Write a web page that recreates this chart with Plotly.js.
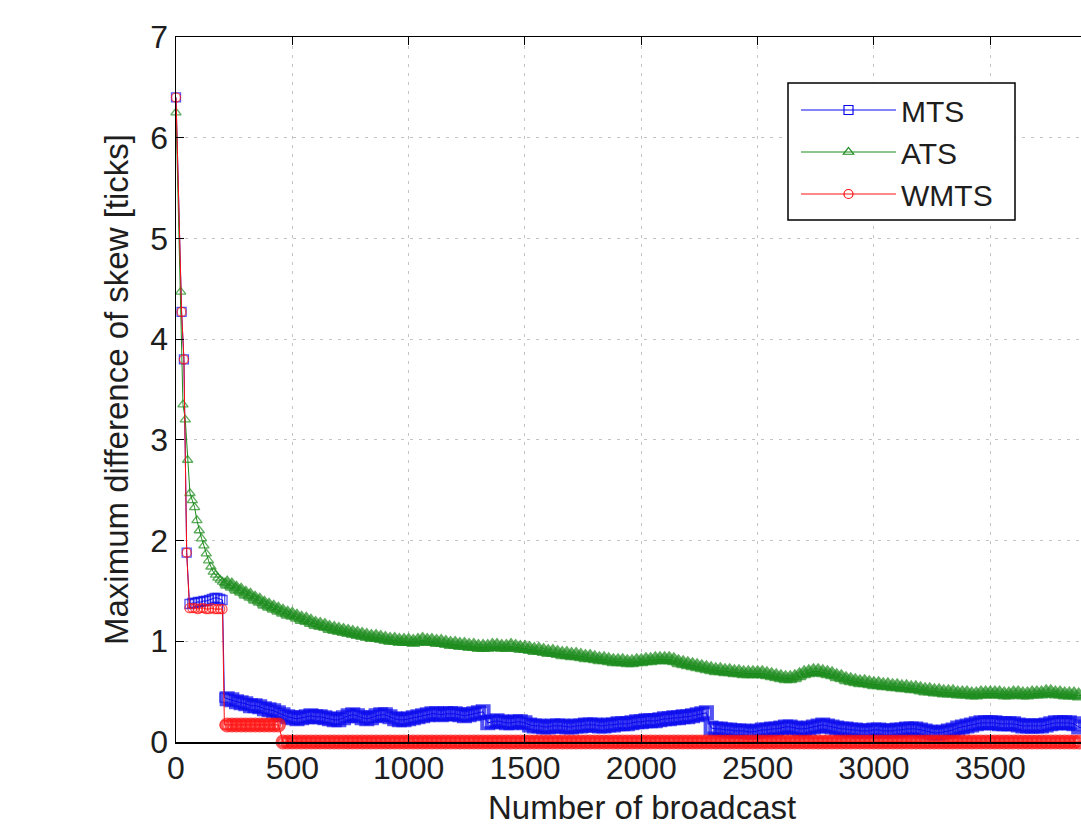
<!DOCTYPE html>
<html>
<head>
<meta charset="utf-8">
<script src="https://cdn.plot.ly/plotly-3.0.1.min.js"></script>
<style>html,body{margin:0;padding:0;background:#fff;}#chart{width:1081px;height:825px;}</style>
</head>
<body>
<div id="chart"></div>
<script>
// ---- data ----
const seriesNames = ["MTS", "ATS", "WMTS"];
const xTickVals = [0, 500, 1000, 1500, 2000, 2500, 3000, 3500];
const yTickVals = [0, 1, 2, 3, 4, 5, 6, 7];

// early samples (before the regular grid)
const mtsEarlyX = [0, 24, 34, 46, 58, 70, 82, 94, 106, 118, 130, 142, 154, 166, 178, 190, 200, 208];
const mtsEarlyY = [6.40, 4.27, 3.80, 1.88, 1.37, 1.38, 1.38, 1.39, 1.39, 1.40, 1.40, 1.41, 1.42, 1.43, 1.43, 1.42, 1.41, 0.44];
const wmtsEarlyY = [6.40, 4.27, 3.80, 1.88, 1.33, 1.33, 1.33, 1.32, 1.33, 1.33, 1.32, 1.32, 1.33, 1.32, 1.32, 1.32, 1.32, 0.17];
const atsEarlyX = [0, 20, 30, 40, 50, 60, 70, 80, 90, 100, 110, 120, 130, 140, 150, 160, 170, 180, 190, 200, 210];
const atsEarlyY = [6.25, 4.47, 3.35, 3.20, 2.80, 2.47, 2.40, 2.33, 2.20, 2.10, 2.02, 1.95, 1.87, 1.80, 1.74, 1.69, 1.66, 1.63, 1.61, 1.59, 1.58];

// regular samples
const broadcastX = [
  220,240,260,280,300,320,340,360,380,400,
  420,440,460,480,500,520,540,560,580,600,
  620,640,660,680,700,720,740,760,780,800,
  820,840,860,880,900,920,940,960,980,1000,
  1020,1040,1060,1080,1100,1120,1140,1160,1180,1200,
  1220,1240,1260,1280,1300,1320,1340,1360,1380,1400,
  1420,1440,1460,1480,1500,1520,1540,1560,1580,1600,
  1620,1640,1660,1680,1700,1720,1740,1760,1780,1800,
  1820,1840,1860,1880,1900,1920,1940,1960,1980,2000,
  2020,2040,2060,2080,2100,2120,2140,2160,2180,2200,
  2220,2240,2260,2280,2300,2320,2340,2360,2380,2400,
  2420,2440,2460,2480,2500,2520,2540,2560,2580,2600,
  2620,2640,2660,2680,2700,2720,2740,2760,2780,2800,
  2820,2840,2860,2880,2900,2920,2940,2960,2980,3000,
  3020,3040,3060,3080,3100,3120,3140,3160,3180,3200,
  3220,3240,3260,3280,3300,3320,3340,3360,3380,3400,
  3420,3440,3460,3480,3500,3520,3540,3560,3580,3600,
  3620,3640,3660,3680,3700,3720,3740,3760,3780,3800,
  3820,3840,3860,3880,3900,3920,3940,3960,3980,4000
];
const atsY = [
  1.57,1.55,1.52,1.50,1.47,1.45,1.42,1.40,1.37,1.35,
  1.33,1.31,1.29,1.27,1.26,1.24,1.22,1.21,1.19,1.17,
  1.16,1.15,1.13,1.12,1.11,1.10,1.09,1.08,1.07,1.06,
  1.05,1.04,1.04,1.03,1.02,1.01,1.01,1.00,1.00,1.00,
  0.99,1.00,1.01,1.00,1.00,0.99,0.99,0.98,0.97,0.97,
  0.96,0.96,0.95,0.95,0.94,0.94,0.94,0.95,0.95,0.94,
  0.94,0.95,0.94,0.93,0.93,0.92,0.91,0.91,0.90,0.89,
  0.89,0.88,0.87,0.87,0.86,0.86,0.85,0.84,0.84,0.83,
  0.82,0.82,0.81,0.80,0.80,0.80,0.79,0.79,0.80,0.80,
  0.81,0.81,0.82,0.82,0.82,0.82,0.81,0.79,0.78,0.77,
  0.76,0.75,0.74,0.73,0.72,0.71,0.71,0.70,0.70,0.69,
  0.69,0.68,0.68,0.68,0.68,0.68,0.67,0.66,0.65,0.64,
  0.63,0.63,0.64,0.66,0.68,0.69,0.70,0.70,0.69,0.68,
  0.67,0.65,0.64,0.62,0.61,0.60,0.59,0.59,0.58,0.57,
  0.57,0.56,0.56,0.55,0.55,0.54,0.54,0.53,0.53,0.52,
  0.51,0.51,0.50,0.50,0.49,0.49,0.49,0.48,0.48,0.48,
  0.47,0.47,0.48,0.48,0.48,0.48,0.48,0.47,0.47,0.48,
  0.48,0.47,0.47,0.48,0.48,0.48,0.49,0.49,0.48,0.48,
  0.47,0.47,0.47,0.46,0.46,0.45,0.45,0.45,0.45,0.45
];
const mtsY = [
  0.43,0.42,0.40,0.39,0.38,0.36,0.36,0.35,0.33,0.32,
  0.31,0.29,0.27,0.25,0.24,0.23,0.24,0.25,0.26,0.25,
  0.25,0.24,0.23,0.22,0.22,0.24,0.26,0.27,0.26,0.24,
  0.23,0.24,0.26,0.27,0.27,0.25,0.23,0.22,0.22,0.23,
  0.24,0.25,0.26,0.27,0.28,0.28,0.27,0.28,0.28,0.28,
  0.27,0.26,0.27,0.28,0.29,0.30,0.19,0.20,0.21,0.20,
  0.19,0.19,0.20,0.20,0.19,0.17,0.16,0.16,0.15,0.15,
  0.16,0.16,0.16,0.15,0.15,0.16,0.16,0.17,0.17,0.17,
  0.16,0.16,0.17,0.17,0.18,0.18,0.18,0.19,0.20,0.20,
  0.21,0.21,0.21,0.22,0.23,0.23,0.24,0.24,0.25,0.25,
  0.26,0.27,0.28,0.29,0.14,0.13,0.13,0.12,0.12,0.11,
  0.11,0.11,0.10,0.10,0.11,0.12,0.12,0.13,0.13,0.14,
  0.15,0.15,0.14,0.13,0.13,0.14,0.15,0.16,0.17,0.16,
  0.15,0.14,0.13,0.13,0.12,0.12,0.11,0.11,0.11,0.12,
  0.12,0.11,0.11,0.11,0.12,0.12,0.13,0.13,0.13,0.12,
  0.11,0.10,0.09,0.09,0.10,0.11,0.12,0.14,0.15,0.16,
  0.17,0.18,0.19,0.19,0.19,0.19,0.18,0.18,0.18,0.18,
  0.17,0.16,0.16,0.16,0.16,0.16,0.17,0.18,0.19,0.19,
  0.19,0.19,0.18,0.15,0.13,0.12,0.12,0.12,0.12,0.12
];
const wmtsY = [
  0.17,0.17,0.17,0.17,0.17,0.17,0.17,0.17,0.17,0.17,
  0.17,0.17,0,0,0,0,0,0,0,0,
  0,0,0,0,0,0,0,0,0,0,
  0,0,0,0,0,0,0,0,0,0,
  0,0,0,0,0,0,0,0,0,0,
  0,0,0,0,0,0,0,0,0,0,
  0,0,0,0,0,0,0,0,0,0,
  0,0,0,0,0,0,0,0,0,0,
  0,0,0,0,0,0,0,0,0,0,
  0,0,0,0,0,0,0,0,0,0,
  0,0,0,0,0,0,0,0,0,0,
  0,0,0,0,0,0,0,0,0,0,
  0,0,0,0,0,0,0,0,0,0,
  0,0,0,0,0,0,0,0,0,0,
  0,0,0,0,0,0,0,0,0,0,
  0,0,0,0,0,0,0,0,0,0,
  0,0,0,0,0,0,0,0,0,0,
  0,0,0,0,0,0,0,0,0,0,
  0,0,0,0,0,0,0,0,0,0
];

// ---- chart ----
const FONT = '"Liberation Sans", Arial, Helvetica, sans-serif';
const TXT = '#1e1e1e';
const COLORS = ['#0a0aee', '#1a8a1a', '#ff1010'];
const SYMBOLS = ['square-open', 'triangle-up-open', 'circle-open'];

function dataTrace(i, earlyX, earlyY, regY) {
  // thin outlines for the sparse early markers, heavier outlines in the dense band
  const widths = earlyX.map(() => 1.3).concat(broadcastX.map(() => 4));
  const sizes = earlyX.map(() => 9).concat(broadcastX.map(() => 11));
  return {
    type: 'scatter', mode: 'lines+markers', name: seriesNames[i], legendgroup: seriesNames[i],
    showlegend: false,
    x: earlyX.concat(broadcastX), y: earlyY.concat(regY),
    cliponaxis: false,
    line: {color: COLORS[i], width: 1},
    marker: {symbol: SYMBOLS[i], size: sizes, color: COLORS[i], line: {color: COLORS[i], width: widths}}
  };
}
function legendTrace(i) {
  return {
    type: 'scatter', mode: 'lines+markers', name: seriesNames[i], legendgroup: seriesNames[i],
    x: [null], y: [null], hoverinfo: 'skip',
    line: {color: COLORS[i], width: 1},
    marker: {symbol: SYMBOLS[i], size: 9, color: COLORS[i], line: {color: COLORS[i], width: 1.2}}
  };
}
const traces = [
  dataTrace(0, mtsEarlyX, mtsEarlyY, mtsY),
  dataTrace(1, atsEarlyX, atsEarlyY, atsY),
  dataTrace(2, mtsEarlyX, wmtsEarlyY, wmtsY),
  legendTrace(0), legendTrace(1), legendTrace(2)
];
const gridDash = '3px,6px';
const layout = {
  width: 1081, height: 825,
  margin: {l: 176, r: 0, t: 37, b: 83, pad: 0},
  paper_bgcolor: '#ffffff', plot_bgcolor: '#ffffff',
  font: {family: FONT, size: 32, color: TXT},
  showlegend: true,
  legend: {
    x: (796 - 176) / 905, y: (742 - 84) / 705, xanchor: 'left', yanchor: 'top',
    bgcolor: 'rgba(0,0,0,0)', borderwidth: 0, traceorder: 'normal',
    font: {family: FONT, size: 30, color: TXT},
    itemwidth: 95, tracegroupgap: 0
  },
  shapes: [{
    type: 'rect', xref: 'paper', yref: 'paper', layer: 'above',
    x0: (788 - 176) / 905, x1: (1015 - 176) / 905,
    y0: (742 - 220) / 705, y1: (742 - 83) / 705,
    line: {color: '#000', width: 1.5}, fillcolor: '#ffffff'
  }],
  xaxis: {
    range: [0, 3890], tickvals: xTickVals, ticktext: xTickVals.map(String),
    showgrid: true, gridcolor: '#c4c4c4', griddash: gridDash, gridwidth: 1,
    zeroline: false, showline: true, linecolor: '#000', linewidth: 1.5,
    mirror: 'ticks', ticks: 'inside', ticklen: 8, tickcolor: '#000', tickwidth: 1,
    ticklabelstandoff: -3,
    tickfont: {family: FONT, size: 32, color: TXT}
  },
  yaxis: {
    range: [0, 7], tickvals: yTickVals, ticktext: yTickVals.map(String),
    showgrid: true, gridcolor: '#c4c4c4', griddash: gridDash, gridwidth: 1,
    zeroline: false, showline: true, linecolor: '#000', linewidth: 1.5,
    mirror: false, ticks: 'inside', ticklen: 8, tickcolor: '#000', tickwidth: 1,
    tickfont: {family: FONT, size: 32, color: TXT},
    title: {text: 'Maximum difference of skew [ticks]', font: {family: FONT, size: 33, color: TXT}, standoff: 12}
  },
  annotations: [{
    text: 'Number of broadcast', xref: 'paper', yref: 'paper',
    x: (642 - 176) / 905, y: -(808 - 742) / 705, xanchor: 'center', yanchor: 'middle', showarrow: false,
    font: {family: FONT, size: 33, color: TXT}
  }]
};
Plotly.newPlot('chart', traces, layout, {displayModeBar: false, staticPlot: true});
</script>
</body>
</html>
